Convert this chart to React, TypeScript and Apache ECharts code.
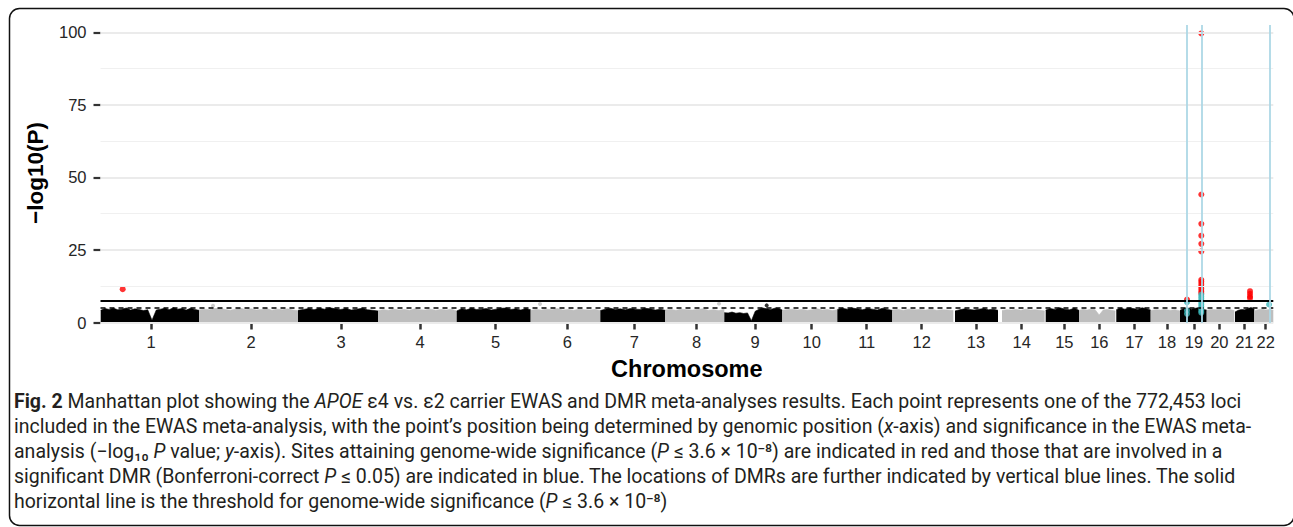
import React, { useEffect, useRef } from 'react';
import * as echarts from 'echarts';

// ---- Data (x in cumulative genomic position, Mb) ----
const chromosomes = ['1','2','3','4','5','6','7','8','9','10','11','12','13','14','15','16','17','18','19','20','21','22'];
const chrStart = [0.5, 242.0, 485.2, 681.7, 875.0, 1056.8, 1227.8, 1387.4, 1532.4, 1674.9, 1810.0, 1945.1, 2099.1, 2214.5, 2321.9, 2403.7, 2495.3, 2579.8, 2651.8, 2717.4, 2786.9, 2834.3];
const chrEnd = [242.0, 485.2, 681.7, 875.0, 1056.8, 1227.8, 1387.4, 1532.4, 1674.9, 1810.0, 1945.1, 2094.9, 2204.7, 2319.4, 2403.7, 2492.9, 2579.8, 2651.8, 2717.4, 2785.2, 2834.3, 2881.0];
const chrTicks = [124.1, 369.7, 590.8, 784.9, 970.8, 1146.7, 1311.3, 1464.6, 1607.8, 1747.1, 1882.2, 2017.3, 2150.7, 2263.0, 2367.6, 2453.6, 2539.6, 2619.9, 2686.3, 2748.4, 2809.8, 2862.4];

// upper envelope of the dense -log10(P) cloud per chromosome
const bandTops = [
  [4.2,4.8,4.5,4.9,4.4,4.6,5.0,4.3,4.7,4.5,4.1,4.4,0.8,4.3,4.6,4.9,4.4,5.1,4.6,4.8,4.3,4.9,4.5,4.2],
  [4.3,4.6,4.4,4.8,4.9,4.5,4.2,4.6,4.9,4.4,4.7,4.3,4.5,4.8,4.2,4.6,4.4,4.7,4.3,4.1],
  [4.2,4.5,4.8,4.4,4.9,4.6,5.1,4.7,4.5,4.8,4.3,4.6,4.9,4.4,4.2,4.0],
  [4.1,4.4,4.2,4.6,4.3,4.5,4.2,4.7,4.4,4.3,4.6,4.2,4.5,4.3,4.6,4.0],
  [4.0,4.7,4.4,4.9,4.5,4.6,4.8,4.3,4.6,4.9,5.0,4.5,4.7,4.3,4.8,4.4],
  [4.2,4.5,4.3,4.6,4.4,4.8,4.3,4.5,4.2,4.6,4.4,4.3,4.5,4.1],
  [4.1,4.6,4.9,4.5,4.7,4.4,4.8,4.6,4.5,4.9,4.7,4.3,4.6,4.2],
  [4.3,4.5,4.2,4.6,4.4,4.3,4.5,4.7,4.2,4.4,4.1,4.6],
  [3.4,3.3,3.6,3.2,3.4,3.1,3.3,0.6,3.9,4.6,5.0,4.7,4.5,4.9,4.8,4.3],
  [4.2,4.4,4.6,4.3,4.5,4.2,4.4,4.7,4.3,4.5,4.1,4.4],
  [4.5,4.9,4.6,5.0,4.7,4.4,4.8,4.6,4.3,4.9,4.5,4.2],
  [4.3,4.5,4.2,4.6,4.4,4.5,4.3,4.6,4.2,4.4,4.3,4.1],
  [4.0,4.4,4.7,4.5,4.3,4.6,4.8,4.4,4.6,4.2],
  [4.1,4.4,4.3,4.5,4.2,4.6,4.3,4.4,4.2,4.0],
  [4.3,4.8,4.5,5.1,4.6,4.4,4.9,4.2],
  [4.2,4.5,4.3,4.6,4.4,2.6,4.3,4.5,4.2,4.0],
  [4.4,4.9,4.6,5.0,4.8,4.5,5.1,4.7,4.3],
  [4.1,4.4,4.3,4.5,4.2,4.4,4.0],
  [4.2,4.8,5.0,4.6,4.9,5.2,4.5,4.3],
  [4.2,4.5,4.4,4.6,4.3,4.5,4.1],
  [3.6,4.2,4.5,4.4,4.8,5.2,4.6],
  [4.0,4.4,4.6,4.3,4.5,4.2],
];

const grayOutliers = [[276.4, 5.8], [1079.6, 6.4], [1519.4, 6.5]];
const blackOutliers = [[1636.5, 5.9]];

// genome-wide significant sites (red)
const sigPoints = [
  [54.5, 11.5], [2669.0, 7.9],
  [2704.1, 99.6], [2704.1, 44.1], [2704.1, 34.0], [2704.1, 29.9], [2704.1, 27.1], [2704.1, 24.5],
  [2704.1, 14.7], [2704.1, 14.0], [2704.1, 13.2], [2704.1, 12.4], [2704.1, 11.6], [2704.1, 10.8], [2704.1, 10.1],
  [2823.8, 10.8], [2823.8, 9.9], [2823.8, 9.0], [2823.8, 8.4],
];
// sites in significant DMRs (blue)
const dmrPoints = [
  [2669.0, 7.0], [2669.0, 4.1], [2669.0, 3.0],
  [2704.1, 9.6], [2704.1, 8.9], [2704.1, 8.2], [2704.1, 7.5], [2704.1, 6.8], [2704.1, 6.1],
  [2704.1, 5.4], [2704.1, 4.7], [2704.1, 4.0], [2704.1, 3.4],
  [2870.6, 6.2],
];
const dmrLines = [2669.0, 2704.1, 2871.2];

const yTicks = [0, 25, 50, 75, 100];
const yMinorGrid = [12.5, 37.5, 62.5, 87.5];
const genomeWideThreshold = 7.44; // -log10(3.6e-8)
const suggestiveThreshold = 5;

const captionLines = [
  '{b|Fig. 2} Manhattan plot showing the {i|APOE} ε4 vs. ε2 carrier EWAS and DMR meta-analyses results. Each point represents one of the 772,453 loci',
  'included in the EWAS meta-analysis, with the point’s position being determined by genomic position ({i|x}-axis) and significance in the EWAS meta-',
  'analysis (−log₁₀ {i|P} value; {i|y}-axis). Sites attaining genome-wide significance ({i|P} ≤ 3.6 × 10⁻⁸) are indicated in red and those that are involved in a',
  'significant DMR (Bonferroni-correct {i|P} ≤ 0.05) are indicated in blue. The locations of DMRs are further indicated by vertical blue lines. The solid',
  'horizontal line is the threshold for genome-wide significance ({i|P} ≤ 3.6 × 10⁻⁸)',
];

export default function App() {
  const ref = useRef<HTMLDivElement>(null);
  useEffect(() => {
    document.body.style.margin = '0';
    const chart = echarts.init(ref.current as HTMLDivElement, null, { renderer: 'svg' });
    const axisFont = 'Liberation Sans, Arial, sans-serif';
    const capFont = 'Roboto, sans-serif';
    const capSize = 19.5;

    const bandSeries = chromosomes.map((c, i) => {
      const tops = bandTops[i];
      const color = i % 2 === 0 ? '#000000' : '#bebebe';
      return {
        type: 'line',
        name: 'chr' + c,
        data: tops.map((h, j) => [chrStart[i] + ((chrEnd[i] - chrStart[i]) * j) / (tops.length - 1), h]),
        symbol: 'none',
        lineStyle: { width: 0.6, color },
        areaStyle: { color, opacity: 1 },
        silent: true,
        z: 2,
      };
    });

    const option: any = {
      animation: false,
      grid: { left: 100.5, right: 19.7, top: 25, bottom: 204, outerBoundsMode: 'none' },
      xAxis: {
        type: 'value',
        min: 0,
        max: 2881,
        axisLine: { show: false },
        splitLine: { show: false },
        axisTick: { show: true, customValues: chrTicks, length: 7, lineStyle: { color: '#333333', width: 2.5 } },
        axisLabel: {
          customValues: chrTicks,
          formatter: (v: number) => {
            let best = 0;
            chrTicks.forEach((t, k) => { if (Math.abs(t - v) < Math.abs(chrTicks[best] - v)) best = k; });
            return chromosomes[best];
          },
          fontSize: 16.5,
          fontFamily: axisFont,
          color: '#262626',
          margin: 10,
        },
      },
      yAxis: {
        type: 'value',
        min: -0.17,
        max: 102.5,
        axisLine: { show: false },
        splitLine: { show: false },
        axisTick: { show: true, customValues: yTicks, length: 7, lineStyle: { color: '#333333', width: 2.2 } },
        axisLabel: { customValues: yTicks, fontSize: 16.5, fontFamily: axisFont, color: '#262626', margin: 14 },
      },
      graphic: [
        {
          type: 'rect',
          shape: { x: 9.5, y: 8.5, width: 1284.5, height: 517, r: 10 },
          style: { fill: 'none', stroke: '#111111', lineWidth: 1.5 },
          silent: true,
        },
        {
          type: 'text',
          x: 35,
          y: 173,
          rotation: Math.PI / 2,
          style: { text: '−log10(P)', fontSize: 22.5, fontWeight: 'bold', fontFamily: axisFont, fill: '#000', align: 'center', verticalAlign: 'middle' },
        },
        {
          type: 'text',
          x: 686.8,
          y: 369,
          style: { text: 'Chromosome', fontSize: 23.5, fontWeight: 'bold', fontFamily: axisFont, fill: '#000', align: 'center', verticalAlign: 'middle' },
        },
        ...captionLines.map((t, k) => ({
          type: 'text',
          x: 14,
          y: 401 + k * 25.2,
          style: {
            text: t,
            fontSize: capSize,
            fontFamily: capFont,
            fill: '#231f20',
            align: 'left',
            verticalAlign: 'middle',
            rich: {
              b: { fontWeight: 'bold', fontSize: capSize, fontFamily: capFont, fill: '#231f20' },
              i: { fontStyle: 'italic', fontSize: capSize, fontFamily: capFont, fill: '#231f20' },
            },
          },
        })),
      ],
      series: [
        {
          type: 'line',
          name: 'grid',
          data: [],
          silent: true,
          z: 1,
          markLine: {
            silent: true,
            symbol: ['none', 'none'],
            label: { show: false },
            animation: false,
            data: [
              ...yTicks.map((v) => ({ yAxis: v, lineStyle: { color: '#ebebeb', width: 2, type: 'solid' } })),
              ...yMinorGrid.map((v) => ({ yAxis: v, lineStyle: { color: '#f0f0f0', width: 1, type: 'solid' } })),
            ],
          },
        },
        ...bandSeries,
        {
          type: 'line',
          name: 'thresholds',
          data: [],
          silent: true,
          z: 3,
          markLine: {
            silent: true,
            symbol: ['none', 'none'],
            label: { show: false },
            animation: false,
            data: [
              { yAxis: genomeWideThreshold, lineStyle: { color: '#000', width: 2, type: 'solid' } },
              { yAxis: suggestiveThreshold, lineStyle: { color: '#000', width: 1.6, type: [5, 4] } },
            ],
          },
        },
        { type: 'scatter', name: 'grayOut', data: grayOutliers, symbolSize: 4, itemStyle: { color: '#bebebe' }, silent: true, z: 3 },
        { type: 'scatter', name: 'blackOut', data: blackOutliers, symbolSize: 4, itemStyle: { color: '#000' }, silent: true, z: 3 },
        { type: 'scatter', name: 'significant', data: sigPoints, symbolSize: 6, itemStyle: { color: '#ff0000' }, silent: true, z: 4 },
        { type: 'scatter', name: 'DMR', data: dmrPoints, symbolSize: 6, itemStyle: { color: '#3ab5b8' }, silent: true, z: 4 },
        {
          type: 'line',
          name: 'dmrLines',
          data: [],
          silent: true,
          z: 5,
          markLine: {
            silent: true,
            symbol: ['none', 'none'],
            label: { show: false },
            animation: false,
            data: dmrLines.map((x) => ({ xAxis: x, lineStyle: { color: '#add8e6', width: 1.8, type: 'solid' } })),
          },
        },
      ],
    };
    chart.setOption(option);
    return () => chart.dispose();
  }, []);
  return <div ref={ref} style={{ width: 1293, height: 527, position: 'absolute', left: 0, top: 0 }} />;
}
